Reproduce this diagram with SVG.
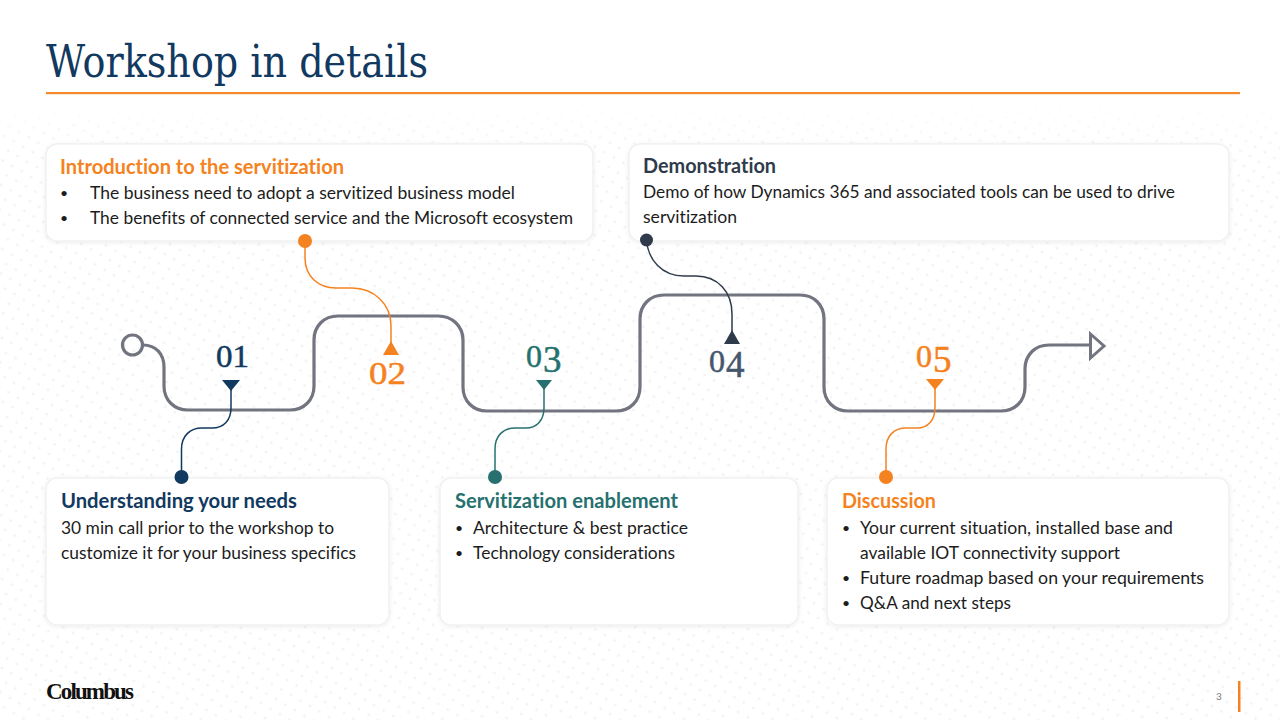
<svg xmlns="http://www.w3.org/2000/svg" width="1280" height="720" viewBox="0 0 1280 720">
<style>
.card{fill:#fff;stroke:#f1f1f1;stroke-width:1.5;filter:url(#sh)}
text{font-family:"Lato","Open Sans","Liberation Sans",sans-serif;font-variant-ligatures:none}
.h{font-size:20px;font-weight:700}
.b{font-size:18px;fill:#1c1c1c}
.dot{font-size:14px;fill:#1c1c1c}
.n{font-family:"Liberation Serif",serif;font-size:32px;stroke-width:0.5px}
.big{font-size:37px}
.main{fill:none;stroke:#72747f;stroke-width:3.2}
.c{fill:none;stroke-width:1.5}
.navy{fill:#123a60;stroke:#123a60}.or{fill:#f58220;stroke:#f58220}.teal{fill:#26716f;stroke:#26716f}.dark{fill:#2f3b4b;stroke:#2f3b4b}.slate{fill:#45566d;stroke:#45566d}
.h,circle.navy,circle.or,circle.teal,circle.dark,path.navy,path.or,path.teal,path.dark{stroke:none}
</style>
<defs>
<pattern id="dots" width="11" height="11" patternUnits="userSpaceOnUse" patternTransform="rotate(30)">
<circle cx="5.5" cy="5.5" r="1.3" fill="#f1f1f1"/>
</pattern>
<linearGradient id="fade" x1="0" y1="0" x2="0" y2="1"><stop offset="0" stop-color="#fff"/><stop offset="0.08" stop-color="#fff" stop-opacity="0"/></linearGradient>
<filter id="sh" x="-5%" y="-5%" width="110%" height="110%"><feDropShadow dx="0" dy="1" stdDeviation="2" flood-color="#000" flood-opacity="0.07"/></filter>
</defs>
<rect width="1280" height="720" fill="#fff"/>
<rect y="100" width="1280" height="620" fill="url(#dots)"/>
<rect y="100" width="1280" height="620" fill="url(#fade)"/>

<g id="title">
<text x="46" y="76.500" textLength="382" lengthAdjust="spacingAndGlyphs" style="font-family:'DejaVu Serif',serif;font-size:44px" fill="#12395f">Workshop in details</text>
<rect x="46" y="92" width="1194" height="2.2" fill="#f58a2b"/>
</g>

<g id="track">
<circle cx="132.500" cy="345" r="10" fill="#fff" class="main"/>
<path class="main" d="M143 345C156 345 164 354 164 367V386C164 400 174 410 188 410H290C304 410 314 400 314 386V340C314 326 324 316 338 316H438C452 316 463 326 463 340V387C463 401 473 411 487 411H616C630 411 640 401 640 387V319C640 305 650 295 664 295H800C814 295 824 305 824 319V387C824 401 834 411 848 411H1001C1015 411 1025 401 1025 387V369C1025 355 1035 345 1049 345H1090"/>
<path d="M1090.500 334L1104 346L1090.500 358Z" fill="#fff" stroke="#72747f" stroke-width="3"/>
</g>

<g id="connectors">
<path class="c" stroke="#123a60" d="M181.500 477V449C181.500 436 190 428 202 428H212C224 428 231 420 231 408V388"/>
<path class="c" stroke="#f58220" d="M305 241V258C305 276 318 288 336 288H352C374 288 391 304 391 326V345"/>
<path class="c" stroke="#26716f" d="M495 477V449C495 436 503 428 515 428H526C537 428 544 420 544 408V388"/>
<path class="c" stroke="#2f3b4b" d="M646.500 240C648 260 662 276 684 276H696C718 276 732 292 732 314V333"/>
<path class="c" stroke="#f58220" d="M886 477V449C886 436 894 428 906 428H917C928 428 935 420 935 408V388"/>
</g>

<g id="step1">
<path d="M222 380H240L231 391Z" class="navy"/>
<text class="n navy" x="216" y="367" textLength="33" lengthAdjust="spacingAndGlyphs">01</text>
<rect class="card" x="46" y="478" width="343" height="147" rx="11"/>
<text class="h navy" x="61" y="508" textLength="236" lengthAdjust="spacingAndGlyphs">Understanding your needs</text>
<text class="b" x="61" y="534" textLength="273" lengthAdjust="spacingAndGlyphs">30 min call prior to the workshop to</text>
<text class="b" x="61" y="559" textLength="295" lengthAdjust="spacingAndGlyphs">customize it for your business specifics</text>
<circle cx="181.500" cy="477" r="7" class="navy"/>
</g>

<g id="step2">
<path d="M383 355H399L391 341Z" class="or"/>
<text class="n or" x="369" y="384" textLength="37" lengthAdjust="spacingAndGlyphs">02</text>
<rect class="card" x="46" y="144" width="547" height="97" rx="11"/>
<text class="h or" x="60" y="174" textLength="284" lengthAdjust="spacingAndGlyphs">Introduction to the servitization</text>
<text class="dot" x="60" y="198">•</text>
<text class="b" x="90" y="199" textLength="425" lengthAdjust="spacingAndGlyphs">The business need to adopt a servitized business model</text>
<text class="dot" x="60" y="223">•</text>
<text class="b" x="90" y="224" textLength="483" lengthAdjust="spacingAndGlyphs">The benefits of connected service and the Microsoft ecosystem</text>
<circle cx="305" cy="241" r="7" class="or"/>
</g>

<g id="step3">
<path d="M536 380H552L544 390Z" class="teal"/>
<text class="n teal" x="526" y="367"><tspan>0</tspan><tspan class="big" dy="5" dx="1">3</tspan></text>
<rect class="card" x="440" y="478" width="358" height="147" rx="11"/>
<text class="h teal" x="455" y="508" textLength="223" lengthAdjust="spacingAndGlyphs">Servitization enablement</text>
<text class="dot" x="455" y="533">•</text>
<text class="b" x="473" y="534" textLength="215" lengthAdjust="spacingAndGlyphs">Architecture &amp; best practice</text>
<text class="dot" x="455" y="558">•</text>
<text class="b" x="473" y="559" textLength="202" lengthAdjust="spacingAndGlyphs">Technology considerations</text>
<circle cx="495" cy="477" r="7" class="teal"/>
</g>

<g id="step4">
<path d="M724 344H740L732 330Z" class="dark"/>
<text class="n slate" x="709" y="372"><tspan>0</tspan><tspan class="big" dy="5" dx="1">4</tspan></text>
<rect class="card" x="629" y="144" width="600" height="97" rx="11"/>
<text class="h dark" x="643" y="173" textLength="133" lengthAdjust="spacingAndGlyphs">Demonstration</text>
<text class="b" x="643" y="198" textLength="532" lengthAdjust="spacingAndGlyphs">Demo of how Dynamics 365 and associated tools can be used to drive</text>
<text class="b" x="643" y="223" textLength="94" lengthAdjust="spacingAndGlyphs">servitization</text>
<circle cx="646.500" cy="240" r="6.500" class="dark"/>
</g>

<g id="step5">
<path d="M926 379H944L935 390Z" class="or"/>
<text class="n or" x="916" y="367"><tspan>0</tspan><tspan class="big" dy="5" dx="1">5</tspan></text>
<rect class="card" x="827" y="478" width="402" height="147" rx="11"/>
<text class="h or" x="842" y="508" textLength="94" lengthAdjust="spacingAndGlyphs">Discussion</text>
<text class="dot" x="842" y="533">•</text>
<text class="b" x="860" y="534" textLength="313" lengthAdjust="spacingAndGlyphs">Your current situation, installed base and</text>
<text class="b" x="860" y="559" textLength="260" lengthAdjust="spacingAndGlyphs">available IOT connectivity support</text>
<text class="dot" x="842" y="583">•</text>
<text class="b" x="860" y="584" textLength="344" lengthAdjust="spacingAndGlyphs">Future roadmap based on your requirements</text>
<text class="dot" x="842" y="608">•</text>
<text class="b" x="860" y="609" textLength="151" lengthAdjust="spacingAndGlyphs">Q&amp;A and next steps</text>
<circle cx="886" cy="477" r="7" class="or"/>
</g>

<g id="footer">
<text x="46" y="699" textLength="88" lengthAdjust="spacing" style="font-family:'Liberation Serif',serif;font-size:23px;font-weight:700" fill="#111">Columbus</text>
<text x="1216" y="700" style="font-size:10px" fill="#777">3</text>
<rect x="1238" y="681" width="2.500" height="31" fill="#f58220"/>
</g>
</svg>
